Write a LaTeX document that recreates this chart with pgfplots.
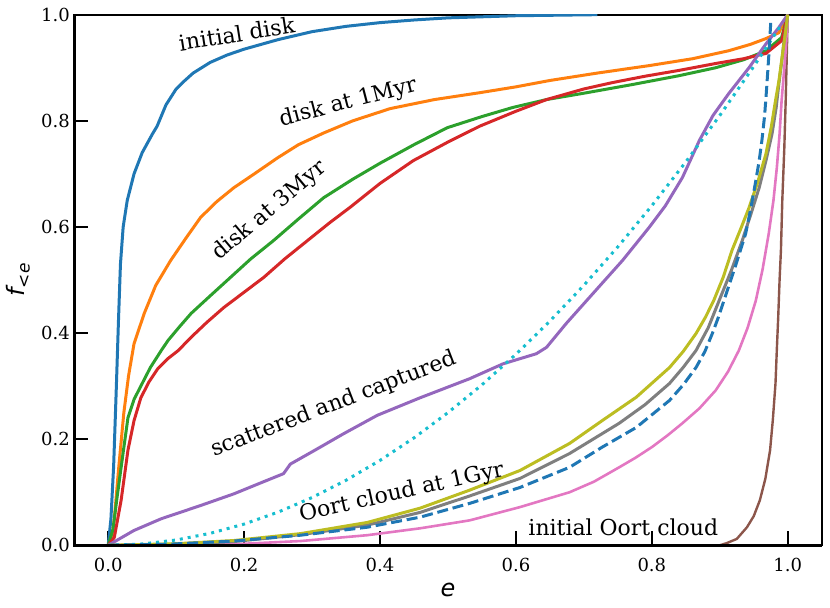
\documentclass[border=0pt]{standalone}
\usepackage{fontspec}
\setmainfont{DejaVu Serif}
\newfontfamily\dvs{DejaVu Sans}
\usepackage{pgfplots}
\pgfplotsset{compat=1.18}
\definecolor{c0}{HTML}{1F77B4}
\definecolor{c1}{HTML}{FF7F0E}
\definecolor{c2}{HTML}{2CA02C}
\definecolor{c3}{HTML}{D62728}
\definecolor{c4}{HTML}{9467BD}
\definecolor{c5}{HTML}{8C564B}
\definecolor{c6}{HTML}{E377C2}
\definecolor{c7}{HTML}{7F7F7F}
\definecolor{c8}{HTML}{BCBD22}
\definecolor{c9}{HTML}{17BECF}
\begin{document}
\begin{tikzpicture}
\path[use as bounding box] (-37.15pt,-31.15pt) rectangle (378.15pt,272.85pt);
\begin{axis}[
  at={(0pt,0pt)}, anchor=south west,
  scale only axis, width=374pt, height=265.5pt,
  xmin=-0.05, xmax=1.05, ymin=0, ymax=1,
  xtick={0,0.2,0.4,0.6,0.8,1.0}, ytick={0,0.2,0.4,0.6,0.8,1.0},
  minor tick num=0,
  tick align=inside, xtick pos=left, ytick pos=left,
  major tick length=7pt,
  major tick style={line width=1pt, black},
  axis line style={line width=1pt, black},
  clip mode=individual,
  /pgf/number format/assume math mode=true,
  xticklabel={\pgfmathprintnumber[fixed,fixed zerofill,precision=1]{\tick}},
  yticklabel={\pgfmathprintnumber[fixed,fixed zerofill,precision=1]{\tick}},
  tick label style={font=\fontsize{9}{10}\selectfont},
  xticklabel style={inner sep=0pt, anchor=north, yshift=-6pt},
  yticklabel style={inner sep=0pt, anchor=east, xshift=-2pt},
  xlabel={\dvs\itshape e},
  x label style={at={(axis description cs:0.5,-0.084)}, anchor=center, font=\fontsize{12}{14}\selectfont},
  ylabel={{\dvs\itshape f}\raisebox{-2.5pt}{\dvs\fontsize{8.5}{10}\selectfont <\itshape e}},
  y label style={at={(axis description cs:-0.0749,0.5)}, anchor=center, font=\fontsize{12}{14}\selectfont},
  every axis plot/.append style={line width=1.5pt, line join=round},
]
% initial disk
\addplot[c0] coordinates {(0,0) (0.004,0.05) (0.008,0.15) (0.012,0.30) (0.015,0.42) (0.018,0.53) (0.022,0.60) (0.028,0.65) (0.038,0.70) (0.05,0.74) (0.065,0.775) (0.072,0.79) (0.085,0.83) (0.1,0.86) (0.112,0.875) (0.125,0.89) (0.15,0.91) (0.175,0.924) (0.2,0.935) (0.25,0.953) (0.3,0.968) (0.35,0.978) (0.4,0.985) (0.45,0.99) (0.5,0.994) (0.6,0.998) (0.72,1.0)};
% disk at 1Myr
\addplot[c1] coordinates {(0,0) (0.005,0.01) (0.009,0.05) (0.015,0.14) (0.023,0.25) (0.03,0.32) (0.038,0.38) (0.053,0.437) (0.07,0.49) (0.092,0.537) (0.115,0.58) (0.136,0.618) (0.16,0.648) (0.185,0.674) (0.215,0.70) (0.249,0.73) (0.28,0.755) (0.317,0.777) (0.36,0.80) (0.415,0.823) (0.48,0.84) (0.547,0.853) (0.6,0.864) (0.65,0.876) (0.72,0.89) (0.796,0.904) (0.86,0.917) (0.913,0.932) (0.945,0.944) (0.968,0.955) (0.987,0.966) (0.994,0.985) (1.0,1.0)};
% disk at 3Myr
\addplot[c2] coordinates {(0,0) (0.007,0.03) (0.013,0.09) (0.019,0.147) (0.029,0.24) (0.038,0.275) (0.048,0.30) (0.062,0.335) (0.078,0.367) (0.088,0.386) (0.105,0.412) (0.122,0.437) (0.15,0.47) (0.18,0.505) (0.21,0.54) (0.243,0.574) (0.28,0.615) (0.317,0.655) (0.36,0.69) (0.4,0.72) (0.45,0.755) (0.499,0.787) (0.55,0.808) (0.595,0.825) (0.645,0.84) (0.7,0.852) (0.77,0.868) (0.84,0.885) (0.894,0.90) (0.935,0.915) (0.968,0.932) (0.991,0.957) (1.0,1.0)};
% red
\addplot[c3] coordinates {(0,0) (0.009,0.015) (0.019,0.085) (0.029,0.179) (0.038,0.235) (0.048,0.278) (0.06,0.308) (0.073,0.333) (0.088,0.352) (0.103,0.367) (0.122,0.392) (0.145,0.42) (0.17,0.448) (0.2,0.477) (0.229,0.505) (0.26,0.54) (0.293,0.574) (0.325,0.607) (0.356,0.637) (0.4,0.682) (0.449,0.725) (0.5,0.76) (0.547,0.79) (0.6,0.818) (0.645,0.84) (0.7,0.86) (0.742,0.872) (0.79,0.884) (0.84,0.895) (0.894,0.908) (0.935,0.917) (0.968,0.927) (0.991,0.951) (1.0,1.0)};
% scattered and captured
\addplot[c4] coordinates {(0,0) (0.038,0.028) (0.078,0.05) (0.136,0.075) (0.185,0.097) (0.229,0.12) (0.258,0.135) (0.268,0.153) (0.308,0.182) (0.346,0.21) (0.396,0.245) (0.459,0.278) (0.532,0.314) (0.581,0.342) (0.63,0.361) (0.645,0.373) (0.674,0.418) (0.713,0.474) (0.757,0.537) (0.796,0.599) (0.82,0.64) (0.845,0.693) (0.87,0.763) (0.89,0.81) (0.913,0.851) (0.943,0.90) (0.968,0.945) (0.987,0.976) (1.0,1.0)};
% initial Oort cloud
\addplot[c5, line width=1.2pt] coordinates {(0,0) (0.9,0) (0.91,0.004) (0.925,0.012) (0.94,0.034) (0.95,0.055) (0.959,0.085) (0.967,0.125) (0.974,0.179) (0.978,0.235) (0.982,0.305) (0.984,0.37) (0.986,0.43) (0.988,0.5) (0.99,0.556) (0.992,0.65) (0.995,0.75) (0.997,0.838) (1.0,1.0)};
% pink
\addplot[c6, line width=1.3pt] coordinates {(0,0) (0.1,0.0005) (0.185,0.002) (0.283,0.008) (0.381,0.019) (0.459,0.032) (0.532,0.047) (0.606,0.072) (0.679,0.10) (0.715,0.12) (0.752,0.147) (0.776,0.165) (0.80,0.185) (0.823,0.207) (0.845,0.23) (0.87,0.258) (0.894,0.292) (0.912,0.327) (0.928,0.367) (0.941,0.41) (0.953,0.461) (0.963,0.52) (0.972,0.587) (0.979,0.65) (0.984,0.712) (0.988,0.775) (0.991,0.838) (0.994,0.885) (0.997,0.932) (1.0,1.0)};
% gray
\addplot[c7] coordinates {(0,0) (0.1,0.002) (0.185,0.007) (0.283,0.02) (0.381,0.038) (0.459,0.062) (0.532,0.093) (0.606,0.126) (0.679,0.173) (0.752,0.23) (0.79,0.265) (0.826,0.305) (0.846,0.335) (0.865,0.367) (0.883,0.41) (0.899,0.461) (0.917,0.518) (0.933,0.574) (0.946,0.625) (0.958,0.674) (0.968,0.725) (0.977,0.776) (0.983,0.825) (0.987,0.87) (0.991,0.91) (0.994,0.945) (1.0,1.0)};
% olive
\addplot[c8] coordinates {(0,0) (0.1,0.003) (0.185,0.009) (0.283,0.022) (0.381,0.043) (0.459,0.07) (0.532,0.104) (0.606,0.141) (0.679,0.192) (0.727,0.235) (0.777,0.279) (0.826,0.335) (0.846,0.365) (0.865,0.399) (0.879,0.43) (0.891,0.461) (0.905,0.505) (0.918,0.556) (0.931,0.597) (0.943,0.636) (0.956,0.685) (0.968,0.738) (0.976,0.79) (0.982,0.838) (0.987,0.875) (0.991,0.913) (0.996,0.96) (1.0,1.0)};
% cyan dotted
\addplot[c9, dash pattern=on 1.5pt off 2.5pt] coordinates {(0,0) (0.05,0.0025) (0.1,0.01) (0.15,0.0225) (0.2,0.04) (0.25,0.0625) (0.3,0.09) (0.35,0.1225) (0.4,0.16) (0.45,0.2025) (0.5,0.25) (0.55,0.3025) (0.6,0.36) (0.65,0.4225) (0.7,0.49) (0.75,0.5625) (0.8,0.64) (0.85,0.7225) (0.9,0.81) (0.95,0.9025) (0.99,0.98)};
% blue dashed
\addplot[c0, dash pattern=on 5.5pt off 2.4pt] coordinates {(0,0) (0.088,0.002) (0.185,0.008) (0.283,0.019) (0.381,0.034) (0.459,0.053) (0.532,0.079) (0.606,0.109) (0.679,0.147) (0.727,0.185) (0.777,0.222) (0.826,0.273) (0.846,0.302) (0.865,0.335) (0.878,0.365) (0.889,0.399) (0.898,0.43) (0.906,0.461) (0.922,0.522) (0.938,0.587) (0.946,0.637) (0.953,0.687) (0.958,0.725) (0.962,0.763) (0.966,0.81) (0.969,0.862) (0.972,0.92) (0.975,0.985)};
\draw[line width=1.4pt, black] (rel axis cs:0,1) -- (rel axis cs:0,0) -- (rel axis cs:1,0);
\begin{scope}[font=\fontsize{11}{13}\selectfont]
\node[rotate=9] at (axis cs:0.189,0.964) {initial disk};
\node[rotate=14.5] at (axis cs:0.353,0.834) {disk at 1Myr};
\node[rotate=40] at (axis cs:0.237,0.63) {disk at 3Myr};
\node[rotate=21] at (axis cs:0.332,0.265) {scattered and captured};
\node[rotate=12.5] at (axis cs:0.432,0.099) {Oort cloud at 1Gyr};
\node at (axis cs:0.758,0.033) {initial Oort cloud};
\end{scope}
\end{axis}
\end{tikzpicture}
\end{document}
